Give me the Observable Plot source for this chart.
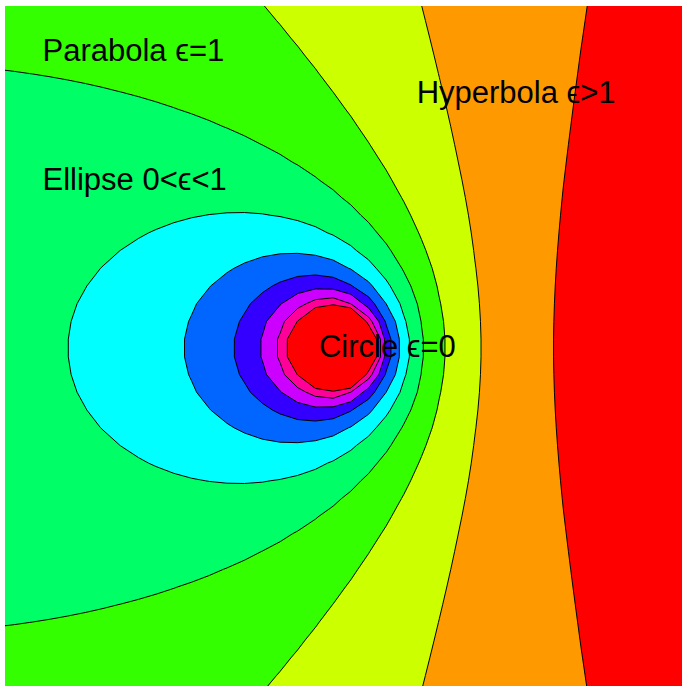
<!DOCTYPE html>
<html>
<head>
<meta charset="utf-8">
<script src="https://cdn.jsdelivr.net/npm/d3@7"></script>
<script src="https://cdn.jsdelivr.net/npm/@observablehq/plot@0.6"></script>
<style>
  html, body { margin: 0; padding: 0; background: #fff; }
  #chart svg { display: block; }
</style>
</head>
<body>
<div id="chart"></div>
<script>
// Conics sharing one focus and one directrix (units: focus–directrix distance)
const focusX = 0;
const focusY = 0;
const directrixX = 1;

// Contour levels of (directrix distance / focus distance) = 1/ϵ
const levels = [-1, -0.162, 0.277, 0.726, 1.177, 1.646, 2.124, 2.647, 3.172, 3.731, 4.266];
// Band colours, lowest band first
const bandColors = ["#ff0000", "#ff9900", "#ccff00", "#33ff00", "#00ff66", "#00ffff",
                    "#0066ff", "#3300ff", "#cc00ff", "#ff0099", "#ff0000"];

// Labels and their anchor points (data units)
const labelText = ["Parabola ϵ=1", "Ellipse 0<ϵ<1", "Hyperbola ϵ>1", "Circle ϵ=0"];
const labelX = [-1.692, -1.692, 0.422, -0.13];
const labelY = [1.62, 0.895, 1.384, -0.05];

// Visible window (data units)
const xDomain = [-1.901, 1.924];
const yDomain = [-1.912, 1.929];

const field = (x, y) => {
  const r = Math.hypot(x - focusX, y - focusY);
  return Math.min(100, (directrixX - x) / r);
};

const labels = labelText.map((t, i) => ({text: t, x: labelX[i], y: labelY[i]}));

const grid = {x1: -2.1, x2: 2.1, y1: -2.1, y2: 2.1, width: 42, height: 42};

const chart = Plot.plot({
  width: 682,
  height: 686,
  marginLeft: 5,
  marginTop: 6,
  marginRight: 0,
  marginBottom: 0,
  style: {background: "#fff"},
  x: {domain: xDomain, axis: null},
  y: {domain: yDomain, axis: null},
  color: {type: "threshold", domain: levels.slice(1), range: bandColors},
  marks: [
    Plot.contour({...grid, fill: field, thresholds: levels, stroke: "none", clip: true}),
    Plot.contour({...grid, value: field, thresholds: levels.slice(1), fill: "none", stroke: "black", strokeWidth: 1, clip: true}),
    Plot.text(labels, {
      x: "x", y: "y", text: "text",
      textAnchor: "start", lineAnchor: "bottom",
      fontSize: 31, fontFamily: "Liberation Sans, Arial, sans-serif",
      fill: "black"
    })
  ]
});
document.getElementById("chart").append(chart);
</script>
</body>
</html>
